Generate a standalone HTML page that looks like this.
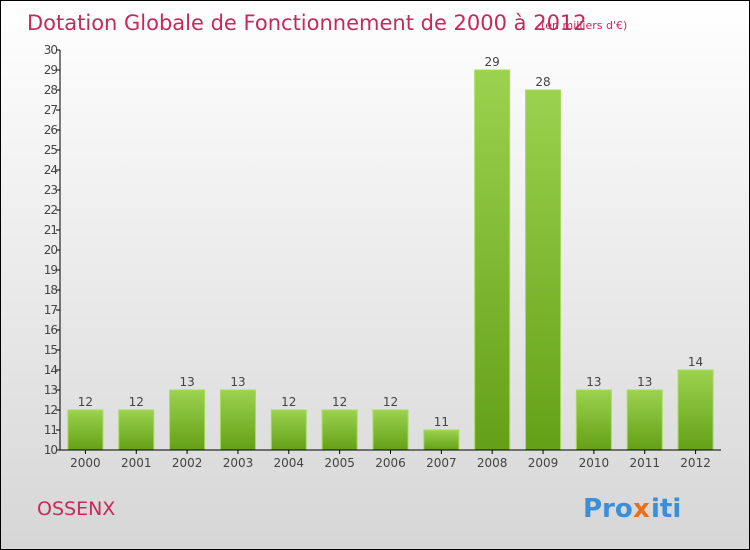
<!DOCTYPE html>
<html><head><meta charset="utf-8"><style>
body{margin:0}
#c{width:748px;height:548px;border:1px solid #000;background:linear-gradient(#fff,#d6d6d6);position:relative;font-family:"DejaVu Sans","Liberation Sans",sans-serif;overflow:hidden}
</style></head><body>
<div id="c">
<svg id="s" width="748" height="548">
<defs><linearGradient id="g" x1="0" y1="0" x2="0" y2="1"><stop offset="0" stop-color="#9bd24f"/><stop offset="1" stop-color="#64a017"/></linearGradient></defs>
<text x="26" y="29" font-size="21" fill="#c8285a">Dotation Globale de Fonctionnement de 2000 à 2012</text>
<text x="540" y="28" font-size="11" fill="#c8285a">(en milliers d'€)</text>
<text x="36" y="514" font-size="19" fill="#c8285a">OSSENX</text>
<g font-size="26" font-weight="bold"><text x="582" y="516" fill="#3a8fd8">Pro</text><text x="632" y="516" fill="#e8701a">x</text><text x="650" y="516" fill="#3a8fd8">iti</text></g>
</svg>
</div>
<script>
const categories=["2000","2001","2002","2003","2004","2005","2006","2007","2008","2009","2010","2011","2012"];
const values=[12,12,13,13,12,12,12,11,29,28,13,13,14];
const yTicks=[10,11,12,13,14,15,16,17,18,19,20,21,22,23,24,25,26,27,28,29,30];
const s=document.getElementById('s'),NS="http://www.w3.org/2000/svg";
const x0=59,x1=720,yTop=49,yBot=449,ymin=10,ymax=30;
const band=(x1-x0)/categories.length;
const y=v=>yBot-(v-ymin)/(ymax-ymin)*(yBot-yTop);
function el(t,a,txt){const e=document.createElementNS(NS,t);for(const k in a)e.setAttribute(k,a[k]);if(txt!=null)e.textContent=txt;s.appendChild(e);return e;}
values.forEach((v,i)=>{const cx=x0+band*(i+0.5);
const r=el('rect',{x:cx-17.5,y:y(v),width:35,height:yBot-y(v),fill:'url(#g)',stroke:'#a5dc5a','stroke-width':1});


const t=el('text',{x:cx,y:y(v)-4,'text-anchor':'middle','font-size':12,fill:'#444'},v);


const c=el('text',{x:cx,y:466,'text-anchor':'middle','font-size':12,fill:'#444'},categories[i]);


const tk=el('line',{x1:cx,x2:cx,y1:yBot,y2:yBot+4,stroke:'#000'});


});
yTicks.forEach(v=>{const l=el('line',{x1:x0-4,x2:x0,y1:y(v),y2:y(v),stroke:'#000'});


const t=el('text',{x:x0-3,y:y(v)+4,'text-anchor':'end','font-size':12,'letter-spacing':'-1',fill:'#444'},v);

});
const ya=el('line',{x1:x0,x2:x0,y1:yTop,y2:yBot,stroke:'#000'});


const xa=el('line',{x1:x0,x2:x1,y1:yBot,y2:yBot,stroke:'#000'});


</script>
</body></html>
